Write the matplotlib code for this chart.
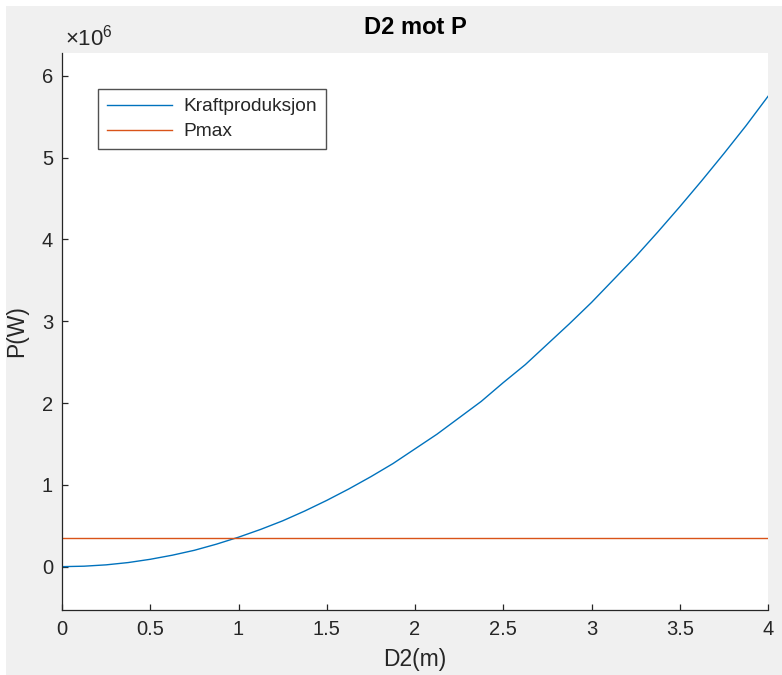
import numpy as np
import matplotlib
matplotlib.use('Agg')
import matplotlib.pyplot as plt
from matplotlib.patches import Rectangle
from matplotlib.ticker import FuncFormatter, MultipleLocator


'''
DATA (read off the reference)
'''

D2      = [0, 0.125, 0.25, 0.375, 0.5, 0.625, 0.75, 0.875, 1.0,
           1.125, 1.25, 1.375, 1.5, 1.625, 1.75, 1.875, 2.0,
           2.125, 2.25, 2.375, 2.5, 2.625, 2.75, 2.875, 3.0,
           3.125, 3.25, 3.375, 3.5, 3.625, 3.75, 3.875, 4.0]
P_MW    = [0, 0.0056, 0.022, 0.05, 0.09, 0.14, 0.2, 0.275, 0.36,
           0.455, 0.56, 0.68, 0.81, 0.95, 1.1, 1.26, 1.44,
           1.62, 1.82, 2.02, 2.25, 2.47, 2.72, 2.97, 3.23,
           3.51, 3.79, 4.09, 4.4, 4.72, 5.05, 5.39, 5.75]
PMAX_MW = 0.355

labels  = ['Kraftproduksjon', 'Pmax']

P    = np.array(P_MW) * 1e6
Pmax = PMAX_MW * 1e6

BLUE   = '#0072BD'
ORANGE = '#D95319'
DARK   = '#262626'
BG     = '#f0f0f0'

plt.rcParams['font.family'] = ['Liberation Sans', 'DejaVu Sans']
plt.rcParams['mathtext.fontset'] = 'custom'
plt.rcParams['mathtext.rm'] = 'Liberation Sans'
plt.rcParams['mathtext.it'] = 'Liberation Sans:italic'

W, H = 782, 675
fig = plt.figure(figsize=(W / 100, H / 100), dpi=100, facecolor='white')
fig.patches.append(Rectangle((6 / W, 0), 1, 1 - 6 / H, transform=fig.transFigure,
                             facecolor=BG, edgecolor='none', zorder=-10))

ax = fig.add_axes([62 / W, 1 - 610 / H, (768 - 62) / W, (610 - 53) / H])
ax.set_facecolor('white')

ax.plot(D2, P, color=BLUE, lw=1.0, solid_joinstyle='round', label=labels[0])
ax.axhline(Pmax, color=ORANGE, lw=1.0, label=labels[1])

ax.set_xlim(0, 4)
ax.set_ylim(-0.53e6, 6.28e6)
ax.xaxis.set_major_locator(MultipleLocator(0.5))
ax.yaxis.set_major_locator(MultipleLocator(1e6))
ax.xaxis.set_major_formatter(FuncFormatter(lambda v, p: f'{v:g}'))
ax.yaxis.set_major_formatter(FuncFormatter(lambda v, p: f'{v / 1e6:g}'))

for s in ('top', 'right'):
    ax.spines[s].set_visible(False)
for s in ('left', 'bottom'):
    ax.spines[s].set_color(DARK)
    ax.spines[s].set_linewidth(0.9)

ax.tick_params(direction='in', length=4.5, width=0.9, color=DARK,
               labelcolor=DARK, labelsize=14.5)
ax.tick_params(axis='x', pad=7.5)
ax.tick_params(axis='y', pad=6.5)

ax.text(0.004, 1.004, r'$\times10^{6}$', transform=ax.transAxes,
        ha='left', va='bottom', fontsize=16, color=DARK)

ax.set_title('D2 mot P', fontsize=17, fontweight='bold', color='black', pad=14)
ax.set_xlabel('D2(m)', fontsize=16.5, color=DARK, labelpad=6)
ax.set_ylabel('P(W)', fontsize=16.5, color=DARK, labelpad=10)

leg = ax.legend(loc='upper left', bbox_to_anchor=(0.0514, 0.9348), borderaxespad=0,
                fontsize=13.8, frameon=True, fancybox=False, shadow=False,
                handlelength=3.4, handletextpad=0.6, labelspacing=0.4,
                borderpad=0.45)
leg.get_frame().set_edgecolor(DARK)
leg.get_frame().set_linewidth(1.0)
for t in leg.get_texts():
    t.set_color(DARK)

fig.savefig('out.png', dpi=100, facecolor=fig.get_facecolor())
